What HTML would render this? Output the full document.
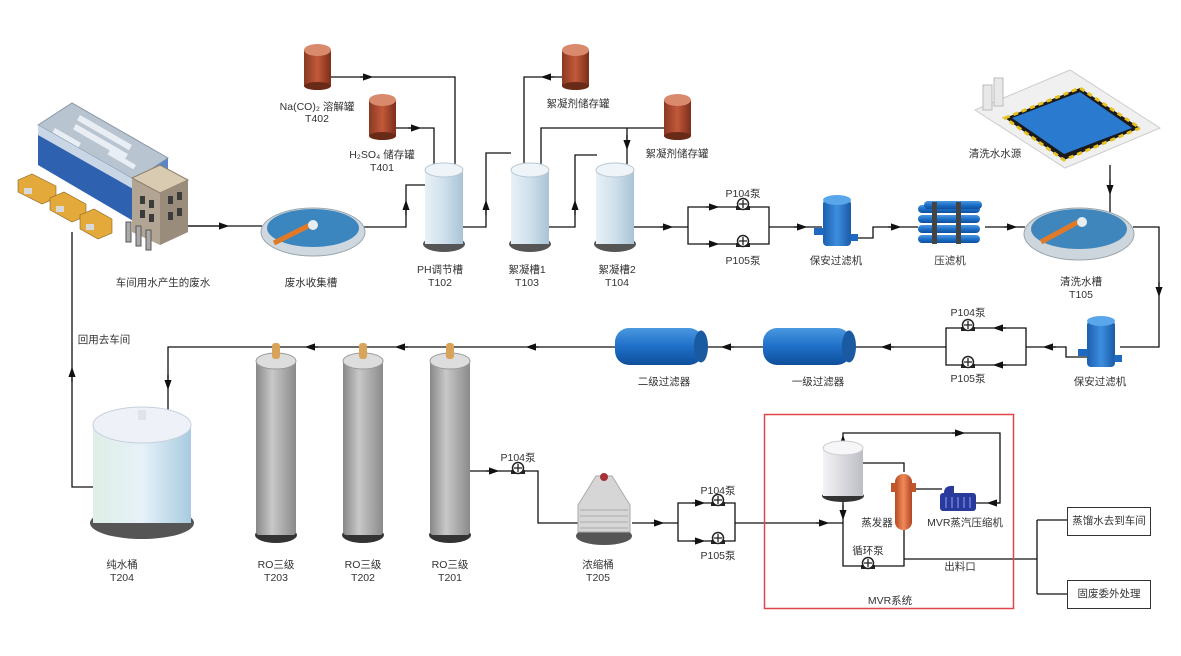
<!DOCTYPE html>
<html><head><meta charset="utf-8"><style>
html,body{margin:0;padding:0;background:#fff;}
svg{display:block;}
text{font-family:"Liberation Sans","Noto Sans CJK SC",sans-serif;font-size:10.5px;fill:#333;text-anchor:middle;}
</style></head><body>
<svg width="1181" height="656" viewBox="0 0 1181 656" xmlns="http://www.w3.org/2000/svg">
<defs>
<marker id="a" viewBox="0 0 10 10" refX="5" refY="5" markerWidth="8" markerHeight="8" orient="auto"><path d="M0,1.5 L10,5 L0,8.5z" fill="#111"/></marker>
<linearGradient id="tc" x1="0" x2="1"><stop offset="0" stop-color="#e8f0f6"/><stop offset="0.5" stop-color="#cfe0ec"/><stop offset="1" stop-color="#a9c3d6"/></linearGradient>
<linearGradient id="br" x1="0" x2="1"><stop offset="0" stop-color="#8a3a22"/><stop offset="0.5" stop-color="#c2583a"/><stop offset="1" stop-color="#7a2e1a"/></linearGradient>
<linearGradient id="bl" x1="0" x2="0" y1="0" y2="1"><stop offset="0" stop-color="#4a98e0"/><stop offset="0.5" stop-color="#1e6fc8"/><stop offset="1" stop-color="#0f4f9a"/></linearGradient>
<linearGradient id="bv" x1="0" x2="1"><stop offset="0" stop-color="#1c5fae"/><stop offset="0.5" stop-color="#3d8ee0"/><stop offset="1" stop-color="#1a5aa6"/></linearGradient>
<linearGradient id="gr" x1="0" x2="1"><stop offset="0" stop-color="#888"/><stop offset="0.4" stop-color="#c8c8c8"/><stop offset="1" stop-color="#8a8a8a"/></linearGradient>
<linearGradient id="wt" x1="0" x2="1"><stop offset="0" stop-color="#dfeee6"/><stop offset="0.5" stop-color="#e6f2f8"/><stop offset="1" stop-color="#a8cbe0"/></linearGradient>
<linearGradient id="ev" x1="0" x2="1"><stop offset="0" stop-color="#f4f4f6"/><stop offset="1" stop-color="#bdbdc6"/></linearGradient>
<linearGradient id="ht" x1="0" x2="1"><stop offset="0" stop-color="#b64a22"/><stop offset="0.5" stop-color="#f08a5a"/><stop offset="1" stop-color="#b04420"/></linearGradient>
<g id="pump"><rect x="-7" y="2" width="14" height="4" fill="#222"/><circle cx="0" cy="0" r="5.5" fill="#fff" stroke="#222" stroke-width="1.5"/><path d="M-4,0H4M0,-4V4" stroke="#222" stroke-width="1.3"/></g>
</defs>

<!-- factory -->
<polygon points="38,125 72,103 168,158 135,180" fill="#b8c4d0" stroke="#8a98a8"/>
<polygon points="38,125 135,180 135,222 38,165" fill="#2e62b0"/>
<polygon points="38,125 135,180 135,190 38,135" fill="#c9d6e6"/>
<polygon points="135,180 168,158 168,200 135,222" fill="#5a86c8"/>
<g fill="#e9eef4"><rect x="80" y="115" width="60" height="6" transform="rotate(30 80 115)"/><rect x="76" y="124" width="60" height="6" transform="rotate(30 76 124)"/><rect x="55" y="128" width="30" height="5" transform="rotate(30 55 128)"/><rect x="110" y="150" width="30" height="5" transform="rotate(30 110 150)"/></g>
<polygon points="132,178 160,165 188,180 188,232 160,245 132,232" fill="#b3a594"/>
<polygon points="132,178 160,165 188,180 160,193" fill="#d9cbb2" stroke="#8e7e68"/>
<polygon points="160,193 188,180 188,232 160,245" fill="#9a8c7b"/>
<g fill="#3b3b3b"><rect x="140" y="196" width="5" height="8"/><rect x="149" y="200" width="5" height="8"/><rect x="140" y="210" width="5" height="8"/><rect x="149" y="214" width="5" height="8"/><rect x="168" y="196" width="5" height="8"/><rect x="177" y="192" width="5" height="8"/><rect x="168" y="212" width="5" height="8"/><rect x="177" y="208" width="5" height="8"/></g>
<g fill="#aaa" stroke="#555"><rect x="126" y="222" width="5" height="20"/><rect x="136" y="226" width="5" height="20"/><rect x="146" y="230" width="5" height="20"/></g>
<g fill="#e3a93a" stroke="#8a6420" stroke-width="0.6"><polygon points="18,180 32,174 56,186 56,198 42,204 18,192"/><polygon points="50,198 64,192 86,204 86,216 72,222 50,210"/><polygon points="80,215 94,209 112,219 112,233 98,239 80,229"/></g>
<g fill="#d8d8d8"><rect x="24" y="188" width="8" height="6"/><rect x="56" y="206" width="8" height="6"/><rect x="86" y="224" width="8" height="6"/></g>

<!-- lines -->
<g fill="none" stroke="#111" stroke-width="1.3">
<path d="M188,226 H262" marker-mid="url(#a)"/>
<path d="M188,226 H225"/><path d="M222,226 H224" marker-end="url(#a)"/>
<path d="M363,227 H406 V185 H425"/><path d="M406,215 V205" marker-end="url(#a)"/>
<path d="M331,77 H455 V167"/><path d="M360,77 H368" marker-end="url(#a)"/>
<path d="M396,128 H434 V167"/><path d="M408,128 H416" marker-end="url(#a)"/>
<path d="M463,227 H486 V153 H511"/><path d="M486,215 V205" marker-end="url(#a)"/>
<path d="M562,77 H524 V167"/><path d="M554,77 H546" marker-end="url(#a)"/>
<path d="M664,128 H541 V167"/><path d="M627,128 V167"/><path d="M627,135 V145" marker-end="url(#a)"/>
<path d="M549,227 H575 V155 H597"/><path d="M575,215 V205" marker-end="url(#a)"/>
<path d="M633,227 H688"/><path d="M660,227 H668" marker-end="url(#a)"/>
<path d="M688,207 H769 V244 H688 Z"/><path d="M706,207 H714" marker-end="url(#a)"/><path d="M706,244 H714" marker-end="url(#a)"/>
<path d="M769,227 H822"/><path d="M794,227 H802" marker-end="url(#a)"/>
<path d="M856,238 H873 V227 H918"/><path d="M888,227 H896" marker-end="url(#a)"/>
<path d="M985,227 H1025"/><path d="M1004,227 H1012" marker-end="url(#a)"/>
<path d="M1110,165 V228"/><path d="M1110,180 V190" marker-end="url(#a)"/>
<path d="M1133,227 H1159 V347 H1120"/><path d="M1159,282 V292" marker-end="url(#a)"/>
<path d="M1087,357 H1066 V347 H1026"/><path d="M1056,347 H1048" marker-end="url(#a)"/>
<path d="M946,328 H1026 V365 H946 Z"/><path d="M1006,328 H998" marker-end="url(#a)"/><path d="M1006,365 H998" marker-end="url(#a)"/>
<path d="M946,347 H855"/><path d="M894,347 H886" marker-end="url(#a)"/>
<path d="M763,347 H707"/><path d="M734,347 H726" marker-end="url(#a)"/>
<path d="M615,347 H168 V427"/><path d="M539,347 H531" marker-end="url(#a)"/><path d="M408,347 H400" marker-end="url(#a)"/><path d="M318,347 H310" marker-end="url(#a)"/><path d="M168,375 V385" marker-end="url(#a)"/>
<path d="M93,487 H72 V232"/><path d="M72,382 V372" marker-end="url(#a)"/>
<path d="M470,471 H538 V523 H578"/><path d="M486,471 H494" marker-end="url(#a)"/>
<path d="M632,523 H678"/><path d="M651,523 H659" marker-end="url(#a)"/>
<path d="M678,503 H735 V541 H678 Z"/><path d="M692,503 H700" marker-end="url(#a)"/><path d="M692,541 H700" marker-end="url(#a)"/>
<path d="M735,523 H843"/><path d="M816,523 H824" marker-end="url(#a)"/>
<path d="M843,500 V566 H904 V530"/><path d="M843,505 V515" marker-end="url(#a)"/>
<path d="M843,445 V433 H1000 V503 H976"/><path d="M843,448 V440" marker-end="url(#a)"/><path d="M952,433 H960" marker-end="url(#a)"/><path d="M1000,503 H992" marker-end="url(#a)"/>
<path d="M863,463 H904 V472"/><path d="M912,489 H942"/>
<path d="M904,559 H1037"/><path d="M1037,520 V594"/><path d="M1037,520 H1067"/><path d="M1037,594 H1067"/>
</g>
<rect x="764.5" y="414.5" width="249" height="194" fill="none" stroke="#e0454a" stroke-width="1.5"/>
<rect x="1067.5" y="507.5" width="83" height="28" fill="#fff" stroke="#333"/>
<rect x="1067.5" y="580.5" width="83" height="28" fill="#fff" stroke="#333"/>

<!-- brown tanks -->
<g id="bt"><rect x="304" y="50" width="27" height="36" fill="url(#br)"/><ellipse cx="317.5" cy="50" rx="13.5" ry="6" fill="#d98a6c"/><ellipse cx="317.5" cy="86" rx="13.5" ry="4" fill="#6a2a18"/></g>
<use href="#bt" x="65" y="50"/><use href="#bt" x="258" y="0"/><use href="#bt" x="360" y="50"/>

<!-- collection tank -->
<ellipse cx="313" cy="232" rx="52" ry="24" fill="#cfd8de" stroke="#9aa6ae"/>
<ellipse cx="313" cy="228" rx="46" ry="19" fill="#3c86c0"/>
<line x1="274" y1="243" x2="312" y2="224" stroke="#e07a28" stroke-width="5"/>
<circle cx="313" cy="225" r="5" fill="#e6eef2"/>
<!-- vertical tanks -->
<g id="vt"><ellipse cx="444" cy="244" rx="21" ry="8" fill="#555"/><rect x="425" y="170" width="38" height="74" fill="url(#tc)"/><ellipse cx="444" cy="170" rx="19" ry="7" fill="#eef4f8" stroke="#b8c8d4"/></g>
<use href="#vt" x="86"/><use href="#vt" x="171"/>

<!-- security filters -->
<g id="sf"><rect x="823" y="200" width="28" height="46" rx="4" fill="url(#bv)"/><ellipse cx="837" cy="200" rx="14" ry="5" fill="#5aa6ea"/><rect x="814" y="228" width="10" height="7" fill="#1f6ac0"/><rect x="850" y="234" width="8" height="7" fill="#1f6ac0"/></g>
<use href="#sf" x="264" y="121"/>
<!-- press -->
<g fill="url(#bl)"><rect x="918" y="205" width="62" height="8" rx="4"/><rect x="918" y="215" width="62" height="8" rx="4"/><rect x="918" y="225" width="62" height="8" rx="4"/><rect x="918" y="235" width="62" height="8" rx="4"/><rect x="924" y="201" width="58" height="8" rx="4"/></g>
<rect x="932" y="202" width="5" height="42" fill="#444"/><rect x="956" y="202" width="5" height="42" fill="#444"/>
<!-- T105 -->
<ellipse cx="1079" cy="234" rx="55" ry="26" fill="#cdd6dc" stroke="#9aa6ae"/>
<ellipse cx="1079" cy="229" rx="48" ry="20" fill="#3f86bd"/>
<line x1="1041" y1="242" x2="1078" y2="222" stroke="#e07a28" stroke-width="5"/>
<circle cx="1082" cy="222" r="5" fill="#e6eef2"/>
<!-- clean water source -->
<polygon points="975,110 1070,70 1160,128 1065,168" fill="#f0f0f0" stroke="#ccc"/>
<polygon points="1005,118 1080,88 1140,128 1064,160" fill="#1a1a1a" stroke="#e8c21e" stroke-width="3" stroke-dasharray="5,4"/>
<polygon points="1012,118 1080,92 1132,128 1064,154" fill="#2a7bd0"/>
<rect x="983" y="85" width="9" height="25" fill="#e8e8e8" stroke="#bbb"/><rect x="994" y="78" width="9" height="28" fill="#e8e8e8" stroke="#bbb"/>
<!-- horizontal filters -->
<g id="hf"><rect x="763" y="328" width="88" height="37" rx="14" fill="url(#bl)"/><ellipse cx="849" cy="346.5" rx="7" ry="16" fill="#1a5aa0"/></g>
<use href="#hf" x="-148"/>
<!-- RO columns -->
<g id="ro"><ellipse cx="276" cy="535" rx="21" ry="8" fill="#333"/><rect x="256" y="360" width="40" height="175" rx="3" fill="url(#gr)"/><ellipse cx="276" cy="361" rx="20" ry="8" fill="#ddd" stroke="#999"/><rect x="272" y="343" width="8" height="16" rx="3" fill="#d9a35a"/></g>
<use href="#ro" x="87"/><use href="#ro" x="174"/>
<!-- pure water tank -->
<ellipse cx="142" cy="523" rx="52" ry="16" fill="#555"/>
<rect x="93" y="425" width="98" height="98" fill="url(#wt)"/>
<ellipse cx="142" cy="425" rx="49" ry="18" fill="#eef2f8" stroke="#c8d0dc"/>
<rect x="138" y="410" width="8" height="10" fill="#e0e4ea"/>
<!-- concentrator -->
<ellipse cx="604" cy="536" rx="28" ry="9" fill="#555"/>
<path d="M578,532 V505 L596,476 H612 L630,505 V532 Z" fill="#d6d6d6" stroke="#aaa"/>
<g stroke="#aaa"><line x1="580" y1="510" x2="628" y2="510"/><line x1="580" y1="516" x2="628" y2="516"/><line x1="580" y1="522" x2="628" y2="522"/><line x1="580" y1="528" x2="628" y2="528"/></g>
<circle cx="604" cy="477" r="4" fill="#a83038"/>
<!-- MVR -->
<ellipse cx="843" cy="496" rx="21" ry="6" fill="#333"/>
<rect x="823" y="448" width="40" height="48" fill="url(#ev)"/>
<ellipse cx="843" cy="448" rx="20" ry="7" fill="#f6f6f8" stroke="#ccc"/>
<rect x="895" y="474" width="17" height="56" rx="8" fill="url(#ht)"/>
<rect x="891" y="483" width="5" height="9" fill="#c0562a"/><rect x="911" y="483" width="5" height="9" fill="#c0562a"/>
<rect x="940" y="493" width="36" height="18" rx="3" fill="#2a3a9a"/><path d="M944,493 q0,-8 10,-7 v7z" fill="#2a3a9a"/>
<g stroke="#8fa0ff" stroke-width="1"><line x1="946" y1="497" x2="946" y2="508"/><line x1="952" y1="497" x2="952" y2="508"/><line x1="958" y1="497" x2="958" y2="508"/><line x1="964" y1="497" x2="964" y2="508"/><line x1="970" y1="497" x2="970" y2="508"/></g>

<!-- pumps -->
<use href="#pump" x="743" y="204"/><use href="#pump" x="743" y="241"/>
<use href="#pump" x="968" y="325"/><use href="#pump" x="968" y="362"/>
<use href="#pump" x="518" y="468"/><use href="#pump" x="718" y="500"/><use href="#pump" x="718" y="538"/>
<use href="#pump" x="868" y="563"/>

<!-- labels -->
<text x="317" y="110">Na(CO)₂ 溶解罐</text><text x="317" y="122">T402</text>
<text x="382" y="158">H₂SO₄ 储存罐</text><text x="382" y="171">T401</text>
<text x="578" y="107">絮凝剂储存罐</text><text x="677" y="157">絮凝剂储存罐</text>
<text x="440" y="273">PH调节槽</text><text x="440" y="286">T102</text>
<text x="527" y="273">絮凝槽1</text><text x="527" y="286">T103</text>
<text x="617" y="273">絮凝槽2</text><text x="617" y="286">T104</text>
<text x="163" y="286">车间用水产生的废水</text><text x="311" y="286">废水收集槽</text>
<text x="743" y="197">P104泵</text><text x="743" y="264">P105泵</text>
<text x="836" y="264">保安过滤机</text><text x="950" y="264">压滤机</text>
<text x="995" y="157">清洗水水源</text>
<text x="1081" y="285">清洗水槽</text><text x="1081" y="298">T105</text>
<text x="968" y="316">P104泵</text><text x="968" y="382">P105泵</text>
<text x="1100" y="385">保安过滤机</text>
<text x="818" y="385">一级过滤器</text><text x="664" y="385">二级过滤器</text>
<text x="104" y="343">回用去车间</text>
<text x="122" y="568">纯水桶</text><text x="122" y="581">T204</text>
<text x="276" y="568">RO三级</text><text x="276" y="581">T203</text>
<text x="363" y="568">RO三级</text><text x="363" y="581">T202</text>
<text x="450" y="568">RO三级</text><text x="450" y="581">T201</text>
<text x="518" y="461">P104泵</text>
<text x="598" y="568">浓缩桶</text><text x="598" y="581">T205</text>
<text x="718" y="494">P104泵</text><text x="718" y="559">P105泵</text>
<text x="877" y="526">蒸发器</text><text x="965" y="526">MVR蒸汽压缩机</text>
<text x="868" y="554">循环泵</text><text x="960" y="570">出料口</text>
<text x="890" y="604">MVR系统</text>
<text x="1109" y="524">蒸馏水去到车间</text><text x="1109" y="597">固废委外处理</text>
</svg>
</body></html>
